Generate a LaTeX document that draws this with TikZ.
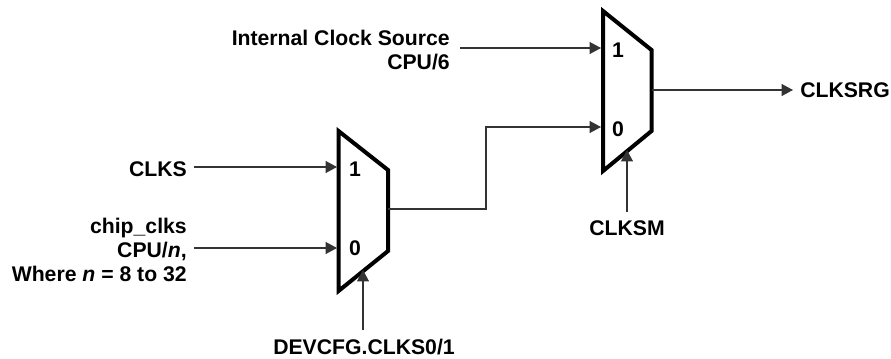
\documentclass[tikz,border=0pt]{standalone}
\usepackage{fontspec}
\setmainfont{Liberation Sans}
\usetikzlibrary{arrows.meta}
\definecolor{wirec}{gray}{0.2}
\tikzset{
 lbl/.style={font=\fontsize{15.9pt}{18pt}\selectfont\bfseries,inner sep=0pt,align=right},
 wire/.style={line width=0.95pt,color=wirec,-{Triangle[length=8.6pt,width=9pt]}},
 mux/.style={line width=3pt,line join=miter},
}
\begin{document}
\begin{tikzpicture}[x=0.75pt,y=-0.75pt]
\useasboundingbox (0,0) rectangle (891,358);
% muxes
\draw[mux] (338.5,131) -- (388,170) -- (388,251) -- (338.5,291) -- cycle;
\draw[mux] (603,11) -- (651.5,50) -- (651.5,131) -- (603,171) -- cycle;
\coordinate (m1a) at (337,167);
\coordinate (m1b) at (337,248);
\coordinate (m1o) at (388,209);
\coordinate (m1s) at (363,270);
\coordinate (m2a) at (601,48);
\coordinate (m2b) at (601,127);
\coordinate (m2o) at (651.5,90);
\coordinate (m2s) at (627,150);
\node[lbl] at (355,169) {1};
\node[lbl] at (355,248) {0};
\node[lbl] at (618,50) {1};
\node[lbl] at (618,129) {0};
\node[lbl,anchor=east] (clks) at (187,169) {CLKS};
\node[lbl,anchor=east] (chip) at (187,249.5) {chip\_clks\\CPU/\textit{n},\\Where \textit{n} = 8 to 32};
\node[lbl,anchor=east] (int) at (450,50) {Internal Clock Source\\CPU/6};
\node[lbl,anchor=west] (srg) at (800,90.5) {CLKSRG};
\node[lbl] (sm) at (627,228) {CLKSM};
\node[lbl] (dev) at (364,347) {DEVCFG.CLKS0/1};
\coordinate (s1) at (194,167);
\coordinate (s2) at (194,248);
\coordinate (s3) at (460,48);
\coordinate (e4) at (793,90);
\coordinate (s5) at (627,212);
\coordinate (s6) at (363,330);
\draw[wire] (s1) -- (m1a);
\draw[wire] (s2) -- (m1b);
\draw[wire] (s3) -- (m2a);
\draw[wire] (m2o) -- (e4);
\draw[wire] (s5) -- (m2s);
\draw[wire] (s6) -- (m1s);
\draw[wire] (m1o) -- (486,209) -- (486,127) -- (m2b);
\end{tikzpicture}
\end{document}
